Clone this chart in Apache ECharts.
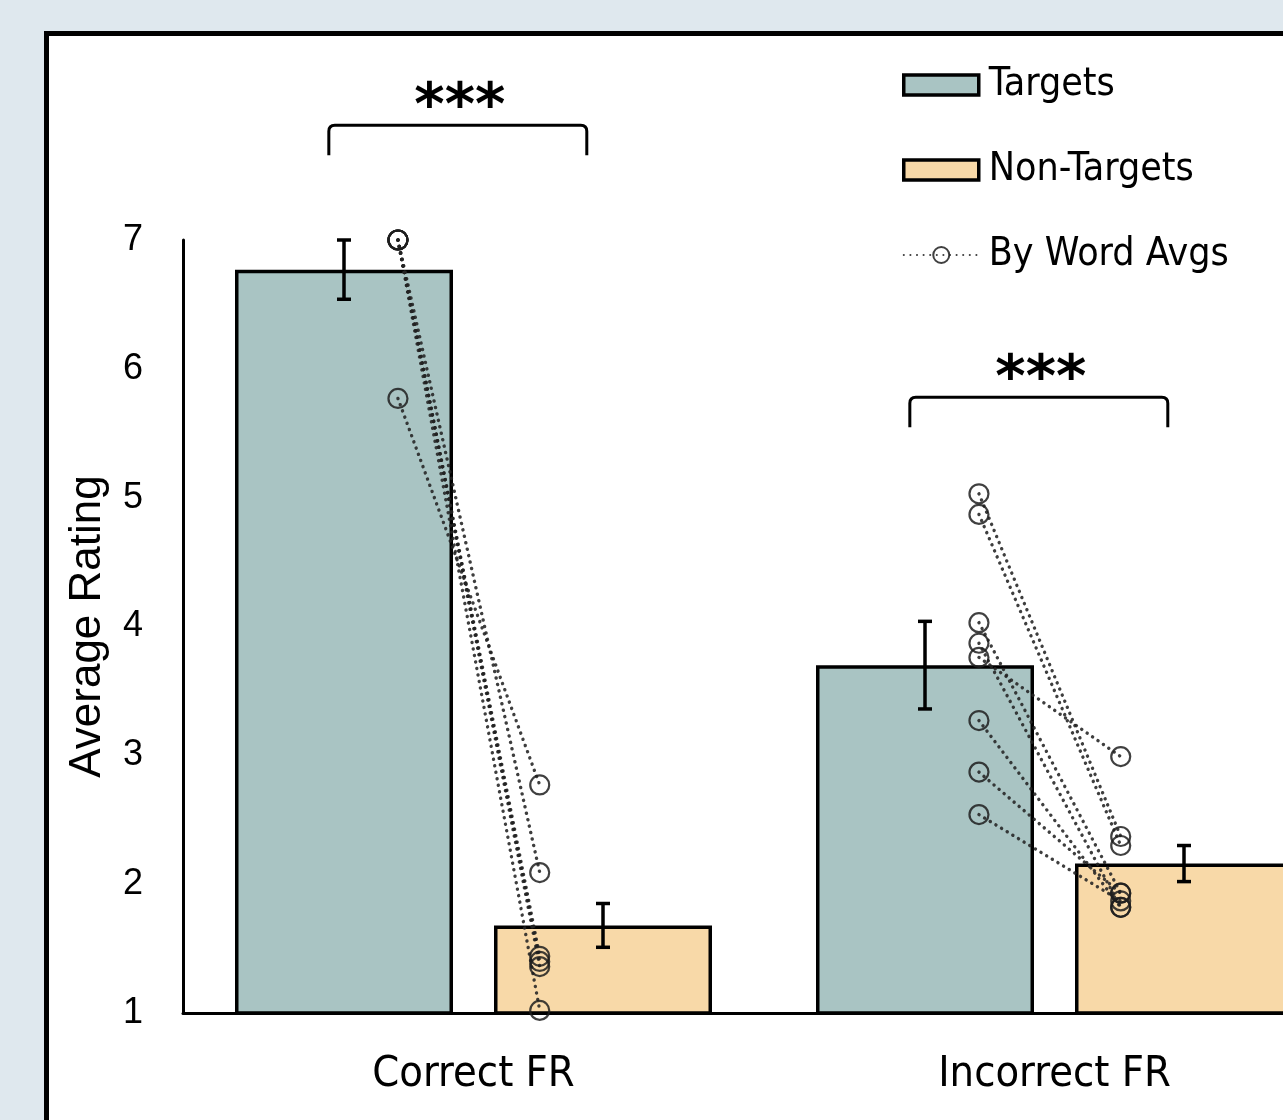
<!DOCTYPE html>
<html>
<head>
<meta charset="utf-8">
<script src="https://cdn.jsdelivr.net/npm/echarts@6/dist/echarts.min.js"></script>
<style>
html,body{margin:0;padding:0;width:1283px;height:1120px;overflow:hidden;background:#dfe8ee;}
#frame{position:absolute;left:44px;top:31px;width:1400px;height:1200px;border:5px solid #000;background:#fff;}
#main{position:absolute;left:0;top:0;width:1400px;height:1120px;}
</style>
</head>
<body>
<div id="frame"></div>
<div id="main"></div>
<script>
var categories = ['Correct FR', 'Incorrect FR'];
var targetMeans = [6.77, 3.70];
var targetErr = [0.23, 0.34];
var nonTargetMeans = [1.68, 2.16];
var nonTargetErr = [0.17, 0.14];
// per word averages (target -> non-target), one pair per word
var correctWordTargets = [7.0, 7.0, 7.0, 7.0, 7.0, 5.77];
var correctWordNonTargets = [2.09, 1.44, 1.40, 1.36, 1.02, 2.77];
var incorrectWordTargets = [5.03, 4.87, 4.03, 3.87, 3.76, 3.27, 2.87, 2.54];
var incorrectWordNonTargets = [2.37, 2.30, 1.93, 1.82, 2.99, 1.82, 1.93, 1.87];
var sigLabels = ['***', '***'];
var sigLevels = [7.89, 5.78];

var BAR_W = 218, BAR_GAP = 41;
var PT_X_T = 0.370, PT_X_N = 0.614;   // word points, fraction of category band
var BR_X0 = 0.251, BR_X1 = 0.695;     // bracket span
var NARROW = '"Liberation Sans Narrow", "DejaVu Sans Condensed", sans-serif';

var myChart = echarts.init(document.getElementById('main'), null, {renderer: 'canvas'});

function errRender(offset)
{
	return function (params, api)
	{
		var m = api.value(1), e = api.value(2);
		var top = api.coord([api.value(0), m + e]);
		var bot = api.coord([api.value(0), m - e]);
		var x = top[0] + offset;
		var st = {stroke: '#000', lineWidth: 3.5};
		return {type: 'group', children: [
			{type: 'line', shape: {x1: x, y1: top[1], x2: x, y2: bot[1]}, style: st},
			{type: 'line', shape: {x1: x - 7, y1: top[1], x2: x + 7, y2: top[1]}, style: st},
			{type: 'line', shape: {x1: x - 7, y1: bot[1], x2: x + 7, y2: bot[1]}, style: st}
		]};
	};
}

var series = [
	{
		name: 'Targets', type: 'bar', data: targetMeans, barWidth: BAR_W, barGap: (BAR_GAP / BAR_W * 100) + '%',
		itemStyle: {color: '#a9c4c3', borderColor: '#000', borderWidth: 3.5}
	},
	{
		name: 'Non-Targets', type: 'bar', data: nonTargetMeans, barWidth: BAR_W,
		itemStyle: {color: '#f8d9a8', borderColor: '#000', borderWidth: 3.5}
	},
	{
		type: 'custom', renderItem: errRender(-(BAR_W + BAR_GAP) / 2), z: 5,
		data: targetMeans.map(function (v, i) { return [i, v, targetErr[i]]; })
	},
	{
		type: 'custom', renderItem: errRender((BAR_W + BAR_GAP) / 2), z: 5,
		data: nonTargetMeans.map(function (v, i) { return [i, v, nonTargetErr[i]]; })
	},
	{
		type: 'custom', xAxisIndex: 1, clip: false, z: 5,
		data: sigLevels.map(function (v, i) { return [i + BR_X0, i + BR_X1, v]; }),
		renderItem: function (params, api)
		{
			var a = api.coord([api.value(0), api.value(2)]);
			var b = api.coord([api.value(1), api.value(2)]);
			var y = a[1], r = 6, leg = 30;
			var path = 'M' + a[0] + ',' + (y + leg) + ' L' + a[0] + ',' + (y + r) +
				' Q' + a[0] + ',' + y + ' ' + (a[0] + r) + ',' + y +
				' L' + (b[0] - r) + ',' + y + ' Q' + b[0] + ',' + y + ' ' + b[0] + ',' + (y + r) +
				' L' + b[0] + ',' + (y + leg);
			return {type: 'group', children: [
				{type: 'path', shape: {pathData: path}, style: {stroke: '#000', lineWidth: 3, fill: null}},
				{type: 'text', style: {text: sigLabels[params.dataIndex], x: (a[0] + b[0]) / 2 + 2, y: y - 16,
					font: 'bold 58px "DejaVu Sans"', fill: '#000', align: 'center', verticalAlign: 'middle'}}
			]};
		}
	}
];

function addWords(cat, tVals, nVals)
{
	for (var i = 0; i < tVals.length; i++)
	{
		series.push({
			name: 'By Word Avgs', type: 'line', xAxisIndex: 1, z: 4,
			data: [[cat + PT_X_T, tVals[i]], [cat + PT_X_N, nVals[i]]],
			symbol: 'circle', symbolSize: 19,
			lineStyle: {color: 'rgba(35,35,35,0.88)', width: 3.4, type: [0.1, 6.5], cap: 'round'},
			itemStyle: {color: 'rgba(0,0,0,0)', borderColor: 'rgba(30,30,30,0.85)', borderWidth: 2.2}
		});
	}
}
addWords(0, correctWordTargets, correctWordNonTargets);
addWords(1, incorrectWordTargets, incorrectWordNonTargets);

var option = {
	animation: false,
	backgroundColor: 'transparent',
	grid: {left: 183, right: 55, top: 240, bottom: 107, containLabel: false},
	legend: {
		orient: 'vertical', left: 897, top: 55, itemWidth: 75, itemHeight: 20, itemGap: 35,
		textStyle: {fontFamily: NARROW, fontSize: 39, color: '#000', lineHeight: 50, padding: [0, 0, 0, 5]},
		data: [
			{name: 'Targets', icon: 'rect', itemStyle: {borderWidth: 3.5, borderColor: '#000'}},
			{name: 'Non-Targets', icon: 'rect', itemStyle: {borderWidth: 3.5, borderColor: '#000'}},
			{name: 'By Word Avgs'}
		]
	},
	xAxis: [
		{
			type: 'category', data: categories,
			axisLine: {lineStyle: {color: '#000', width: 3}},
			axisTick: {show: false},
			axisLabel: {color: '#000', fontSize: 43, fontFamily: NARROW, margin: 40}
		},
		{type: 'value', min: 0, max: 2, show: false}
	],
	yAxis: {
		type: 'value', min: 1, max: 7, interval: 1,
		name: 'Average Rating', nameLocation: 'middle', nameGap: 73, nameRotate: 90,
		nameTextStyle: {color: '#000', fontSize: 44, fontFamily: '"Liberation Sans", Arial, sans-serif'},
		axisLine: {show: true, lineStyle: {color: '#000', width: 3}},
		axisTick: {show: false},
		splitLine: {show: false},
		axisLabel: {color: '#000', fontSize: 36, fontFamily: '"Liberation Sans", Arial, sans-serif', margin: 40}
	},
	series: series
};
myChart.setOption(option);
</script>
</body>
</html>
